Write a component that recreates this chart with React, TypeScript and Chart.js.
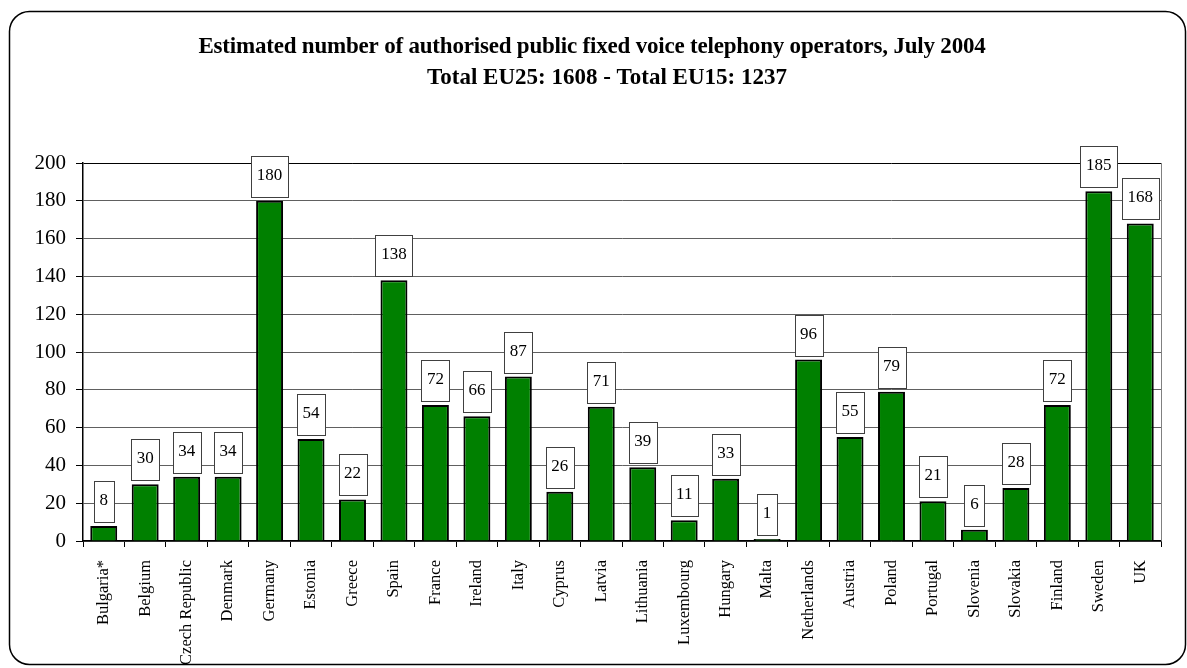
import React, { useEffect, useRef } from "react";
import { Chart, registerables } from "chart.js";

Chart.register(...registerables);

const countries = [
  "Bulgaria*", "Belgium", "Czech Republic", "Denmark", "Germany", "Estonia",
  "Greece", "Spain", "France", "Ireland", "Italy", "Cyprus", "Latvia",
  "Lithuania", "Luxembourg", "Hungary", "Malta", "Netherlands", "Austria",
  "Poland", "Portugal", "Slovenia", "Slovakia", "Finland", "Sweden", "UK",
];

const operators = [
  8, 30, 34, 34, 180, 54, 22, 138, 72, 66, 87, 26, 71, 39, 11, 33, 1, 96, 55,
  79, 21, 6, 28, 72, 185, 168,
];

const titleLines = [
  "Estimated number of authorised public fixed voice telephony operators, July 2004",
  "Total EU25: 1608 - Total EU15: 1237",
];

const yTicks = [0, 20, 40, 60, 80, 100, 120, 140, 160, 180, 200];

const SERIF = "'Liberation Serif', 'Times New Roman', serif";

// Rounded frame, title lines and right-hand plot border
const framePlugin = {
  id: "frame",
  beforeDraw(chart: any) {
    const ctx = chart.ctx;
    ctx.save();
    ctx.fillStyle = "#fff";
    ctx.fillRect(0, 0, chart.width, chart.height);
    ctx.beginPath();
    ctx.roundRect(9.5, 11.5, 1176, 653, 20);
    ctx.lineWidth = 1.5;
    ctx.strokeStyle = "#000";
    ctx.stroke();
    ctx.restore();
  },
  afterDraw(chart: any) {
    const ctx = chart.ctx;
    ctx.save();
    ctx.fillStyle = "#000";
    ctx.textAlign = "center";
    ctx.textBaseline = "alphabetic";
    ctx.font = `bold 23px ${SERIF}`;
    (ctx as any).letterSpacing = "-0.2px";
    ctx.fillText(titleLines[0], 592, 53);
    (ctx as any).letterSpacing = "0px";
    ctx.fillText(titleLines[1], 607, 84);
    ctx.restore();
  },
  afterDatasetsDraw(chart: any) {
    const ctx = chart.ctx;
    const area = chart.chartArea;
    ctx.save();
    ctx.strokeStyle = "#808080";
    ctx.lineWidth = 1;
    ctx.beginPath();
    ctx.moveTo(Math.round(area.right) + 0.5, area.top);
    ctx.lineTo(Math.round(area.right) + 0.5, area.bottom);
    ctx.stroke();
    ctx.restore();
  },
};

// Boxed value labels above every bar
const valueBoxPlugin = {
  id: "valueBoxes",
  afterDatasetsDraw(chart: any) {
    const ctx = chart.ctx;
    const meta = chart.getDatasetMeta(0);
    const values = chart.data.datasets[0].data as number[];
    ctx.save();
    ctx.font = `17px ${SERIF}`;
    ctx.textAlign = "center";
    ctx.textBaseline = "middle";
    meta.data.forEach((bar: any, i: number) => {
      const text = String(values[i]);
      const w = Math.round(ctx.measureText(text).width + 11);
      const h = 41;
      const bottom = Math.round(bar.y - 4);
      const left = Math.round(bar.x - w / 2);
      ctx.fillStyle = "#fff";
      ctx.fillRect(left, bottom - h, w, h);
      ctx.strokeStyle = "#404040";
      ctx.lineWidth = 1;
      ctx.strokeRect(left + 0.5, bottom - h + 0.5, w, h);
      ctx.fillStyle = "#000";
      ctx.fillText(text, bar.x, bottom - h / 2 - 1);
    });
    ctx.restore();
  },
};

export default function App() {
  const canvasRef = useRef<HTMLCanvasElement | null>(null);

  useEffect(() => {
    if (!canvasRef.current) return;
    const chart = new Chart(canvasRef.current, {
      type: "bar",
      data: {
        labels: countries,
        datasets: [
          {
            data: operators,
            backgroundColor: "#008000",
            borderColor: "#000",
            borderWidth: 2,
            barPercentage: 0.65,
            categoryPercentage: 1,
          },
        ],
      },
      options: {
        responsive: false,
        animation: false,
        devicePixelRatio: 1,
        layout: { padding: { top: 163, right: 26, left: 0, bottom: 0 } },
        plugins: {
          legend: { display: false },
          title: { display: false },
          tooltip: { enabled: false },
        },
        scales: {
          x: {
            offset: true,
            grid: {
              offset: true,
              drawOnChartArea: false,
              drawTicks: true,
              tickLength: 6,
              tickColor: "#000",
            },
            border: { color: "#000", width: 1.5 },
            ticks: {
              autoSkip: false,
              maxRotation: 90,
              minRotation: 90,
              padding: 13,
              color: "#000",
              font: { family: SERIF, size: 16.5 },
            },
            afterFit(scale: any) {
              scale.height = 127;
            },
          },
          y: {
            min: 0,
            max: 200,
            afterBuildTicks(scale: any) {
              scale.ticks = yTicks.map((v) => ({ value: v }));
            },
            grid: {
              color: (c: any) => (c.tick && c.tick.value === 200 ? "#000" : "#606060"),
              lineWidth: 1,
              tickLength: 7,
              tickColor: "#000",
            },
            border: { color: "#000", width: 1.5 },
            ticks: {
              padding: 10,
              color: "#000",
              font: { family: SERIF, size: 21 },
            },
            afterFit(scale: any) {
              scale.width = 83;
            },
          },
        },
      },
      plugins: [framePlugin, valueBoxPlugin],
    });
    return () => chart.destroy();
  }, []);

  return (
    <div style={{ position: "absolute", left: 0, top: 0, width: 1187, height: 668, background: "#fff" }}>
      <canvas ref={canvasRef} width={1187} height={668} />
    </div>
  );
}
